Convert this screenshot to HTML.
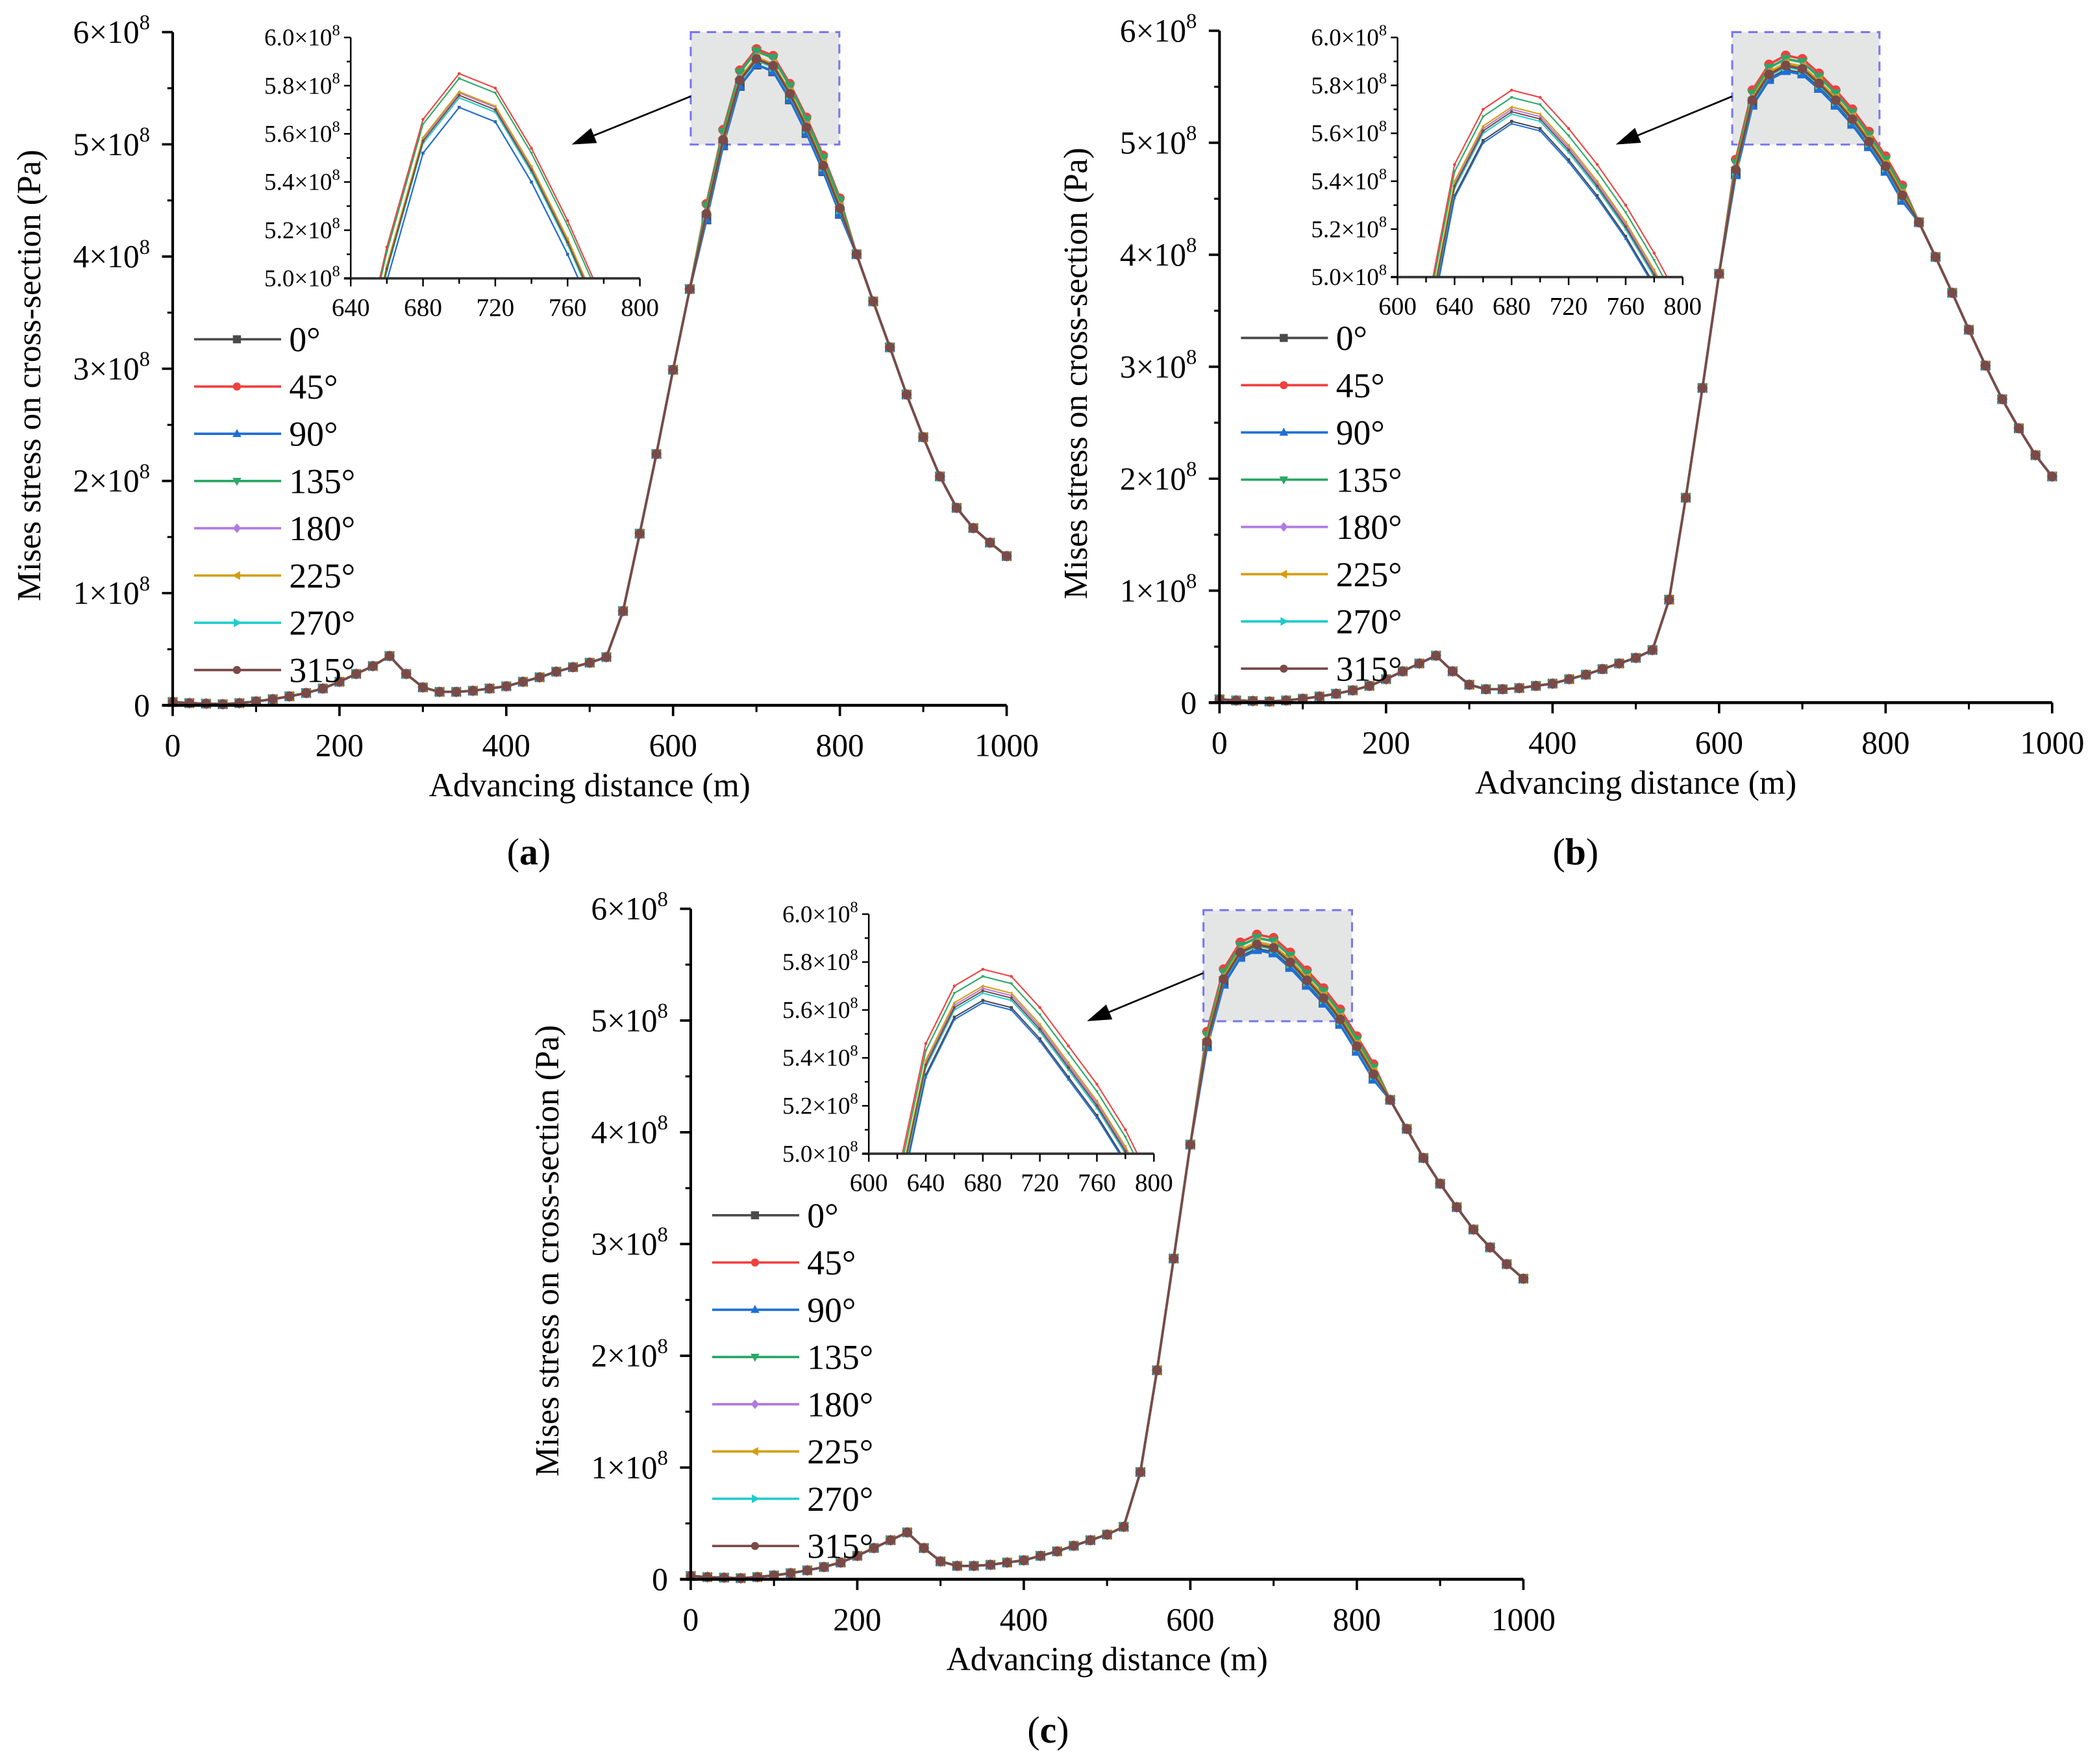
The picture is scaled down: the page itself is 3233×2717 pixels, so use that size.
<!DOCTYPE html>
<html><head><meta charset="utf-8"><title>Mises stress charts</title>
<style>
html,body{margin:0;padding:0;background:#fff;overflow:hidden;width:3233px;height:2717px;}
svg{display:block;}
text,tspan{font-family:"Liberation Serif","Noto Serif CJK SC",serif;}
</style></head>
<body>
<svg id="fig" width="3233" height="2717" viewBox="0 0 1568 1318" preserveAspectRatio="none" xmlns="http://www.w3.org/2000/svg">
<rect x="0" y="0" width="1568" height="1318" fill="#fff"/>
</svg>
<script>
// ---------- DATA ----------
const distances = [0,20,40,60,80,100,120,140,160,180,200,220,240,260,280,300,320,340,360,380,400,420,440,460,480,500,520,540,560,580,600,620,640,660,680,700,720,740,760,780,800,820,840,860,880,900,920,940,960,980,1000];
const seriesNames = ["0°","45°","90°","135°","180°","225°","270°","315°"];
const baseA = [0.03,0.02,0.015,0.01,0.02,0.035,0.055,0.08,0.11,0.15,0.21,0.28,0.35,0.44,0.28,0.16,0.12,0.12,0.13,0.15,0.17,0.21,0.25,0.30,0.34,0.38,0.43,0.84,1.53,2.24,2.99,3.71,4.39,5.05,5.58,5.77,5.71,5.46,5.16,4.82,4.44,4.02,3.60,3.19,2.77,2.39,2.04,1.76,1.58,1.45,1.33];
const baseB = [0.03,0.02,0.015,0.01,0.02,0.035,0.055,0.08,0.11,0.15,0.21,0.28,0.35,0.42,0.28,0.16,0.12,0.12,0.13,0.15,0.17,0.21,0.25,0.30,0.35,0.40,0.47,0.92,1.83,2.81,3.83,4.77,5.39,5.62,5.70,5.67,5.54,5.39,5.22,5.02,4.80,4.54,4.29,3.98,3.66,3.33,3.01,2.71,2.45,2.21,2.02];
const baseC = [0.03,0.02,0.015,0.01,0.02,0.035,0.055,0.08,0.11,0.15,0.21,0.28,0.35,0.42,0.28,0.16,0.12,0.12,0.13,0.15,0.17,0.21,0.25,0.30,0.35,0.40,0.47,0.96,1.87,2.87,3.89,4.82,5.38,5.62,5.69,5.66,5.53,5.37,5.21,5.02,4.78,4.53,4.29,4.03,3.77,3.54,3.33,3.13,2.97,2.82,2.69];
// per-angle offsets near the peak (x1e8 Pa), order as seriesNames
const offsetsA = [-0.06,0.08,-0.06,0.06,0,0.005,-0.02,-0.01];
const offsetsB = [-0.05,0.08,-0.06,0.05,0,0.01,-0.02,-0.01];
const offsetsC = [-0.05,0.08,-0.06,0.05,0,0.01,-0.02,-0.01];
const mainXTicks = [0,200,400,600,800,1000];
const mainYTicks = [0,1,2,3,4,5,6];
const insetXTicksA = [640,680,720,760,800];
const insetXTicksBC = [600,640,680,720,760,800];
const insetYTicks = [5.0,5.2,5.4,5.6,5.8,6.0];

// ---------- STYLE ----------
const FONT = '"Liberation Serif", "Noto Serif CJK SC", serif';
const colors = ["#4a4a4a","#f04040","#1f6fd6","#2aa866","#b07ae0","#d49e10","#20cccc","#7a4a48"];
const markers = ["square","circle","up","down","diamond","left","right","circle"];
const NS = "http://www.w3.org/2000/svg";
const svg = document.getElementById("fig");
function el(tag, attrs, parent){const e=document.createElementNS(NS,tag);for(const k in attrs)e.setAttribute(k,attrs[k]);if(tag==="text"||tag==="tspan")e.setAttribute("font-family",FONT);(parent||svg).appendChild(e);return e;}

function seriesValues(base, offs, si, w0, w1){
  return base.map((v,i)=> (i>=w0 && i<=w1) ? v+offs[si] : v);
}
function marker(g, type, x, y, r, color){
  let m;
  if(type==="square") m=el("rect",{x:x-r,y:y-r,width:2*r,height:2*r,fill:color},g);
  else if(type==="circle") m=el("circle",{cx:x,cy:y,r:r,fill:color},g);
  else if(type==="diamond") m=el("polygon",{points:`${x},${y-r*1.2} ${x+r},${y} ${x},${y+r*1.2} ${x-r},${y}`,fill:color},g);
  else { let p;
    if(type==="up") p=`${x},${y-r*1.2} ${x+r*1.1},${y+r*0.8} ${x-r*1.1},${y+r*0.8}`;
    else if(type==="down") p=`${x},${y+r*1.2} ${x+r*1.1},${y-r*0.8} ${x-r*1.1},${y-r*0.8}`;
    else if(type==="left") p=`${x-r*1.2},${y} ${x+r*0.8},${y-r*1.1} ${x+r*0.8},${y+r*1.1}`;
    else p=`${x+r*1.2},${y} ${x-r*0.8},${y-r*1.1} ${x-r*0.8},${y+r*1.1}`;
    m=el("polygon",{points:p,fill:color},g);}
  
  
  return m;
}
function sciLabel(parent, x, y, mant, size, anchor){
  const t=el("text",{x:x,y:y,"font-size":size,"text-anchor":anchor||"end",fill:"#000"},parent);
  
  
  if(mant==="0"){t.textContent="0";return t;}
  const a=el("tspan",{},t); a.textContent=mant+"×10";
  const b=el("tspan",{dy:-size*0.42,"font-size":size*0.66},t); b.textContent="8";
  return t;
}

function drawPanel(P){
  const g=el("g",{});
  
  
  const X=v=>P.x0+(v/1000)*(P.x1-P.x0);
  const Y=v=>P.y0-(v/6)*(P.y0-P.yTop);
  const zb=el("rect",{x:P.box[0],y:P.box[1],width:P.box[2]-P.box[0],height:P.box[3]-P.box[1],fill:"#e4e6e6",stroke:"#7878f0","stroke-width":1.5,"stroke-dasharray":"7,5"},g);
  
  
  for(let s=0;s<8;s++){
    const vals=seriesValues(P.base,P.offs,s,P.w0,P.w1);
    const sg=el("g",{},g);
    
    
    const pts=distances.map((d,i)=>X(d).toFixed(2)+","+Y(vals[i]).toFixed(2)).join(" ");
    const pl=el("polyline",{points:pts,fill:"none",stroke:colors[s],"stroke-width":1.8,"stroke-linejoin":"round"},sg);
    
    
    distances.forEach((d,i)=>marker(sg,markers[s],X(d),Y(vals[i]),3.6,colors[s]));
  }
  const ax=el("g",{stroke:"#000"},g);
  
  
  el("line",{x1:P.x0,y1:P.y0+1,x2:P.x0,y2:P.yTop,"stroke-width":2},ax);
  el("line",{x1:P.x0-8,y1:P.y0,x2:P.x1,y2:P.y0,"stroke-width":2.2},ax);
  for(let v=0.5;v<6;v+=1) el("line",{x1:P.x0-4,y1:Y(v),x2:P.x0,y2:Y(v),"stroke-width":1.5},ax);
  for(let v=100;v<1000;v+=200) el("line",{x1:X(v),y1:P.y0,x2:X(v),y2:P.y0+5,"stroke-width":1.5},ax);
  mainYTicks.forEach(v=>{el("line",{x1:P.x0-8,y1:Y(v),x2:P.x0,y2:Y(v),"stroke-width":1.8},ax);
    sciLabel(g,P.x0-17,Y(v)+8,String(v),24);});
  mainXTicks.forEach(v=>{el("line",{x1:X(v),y1:P.y0,x2:X(v),y2:P.y0+8,"stroke-width":1.8},ax);
    const t=el("text",{x:X(v),y:P.y0+38,"font-size":24,"text-anchor":"middle"},g);t.textContent=v;
    
    });
  const yt=el("text",{x:0,y:0,"font-size":25,"text-anchor":"middle",transform:`translate(${P.x0-99},${(P.y0+P.yTop)/2+5}) rotate(-90)`},g);
  yt.textContent="Mises stress on cross-section  (Pa)";
  
  
  const xt=el("text",{x:(P.x0+P.x1)/2,y:P.y0+68,"font-size":25,"text-anchor":"middle"},g);
  xt.textContent="Advancing distance (m)";
  
  
  const pl=el("text",{x:P.lab[0],y:P.lab[1],"font-size":28,"text-anchor":"middle"},g);
  
  
  pl.appendChild(document.createTextNode("("));
  const bb=el("tspan",{"font-weight":"bold"},pl); bb.textContent=P.id; pl.appendChild(document.createTextNode(")"));
  const ar=el("g",{},g);
  
  
  const [ax1,ay1,ax2,ay2]=P.arrow;
  const ang=Math.atan2(ay2-ay1,ax2-ax1);
  el("line",{x1:ax1,y1:ay1,x2:ax2-10*Math.cos(ang),y2:ay2-10*Math.sin(ang),stroke:"#000","stroke-width":1.3},ar);
  const hx=ax2,hy=ay2,L=18,W=6;
  const bx=hx-L*Math.cos(ang),by=hy-L*Math.sin(ang);
  el("polygon",{points:`${hx},${hy} ${bx+W*Math.sin(ang)},${by-W*Math.cos(ang)} ${bx-W*Math.sin(ang)},${by+W*Math.cos(ang)}`,fill:"#000"},ar);
  const I=P.inset;
  const IX=v=>I.x0+(v-I.xmin)/(I.xmax-I.xmin)*(I.x1-I.x0);
  const IY=v=>I.y0-(v-5)/(1)*(I.y0-I.yTop);
  const ig=el("g",{},g);
  
  
  const cid="clip"+P.id;
  const cp=el("clipPath",{id:cid},ig); el("rect",{x:I.x0,y:I.yTop-2,width:I.x1-I.x0,height:I.y0-I.yTop+2},cp);
  const isg=el("g",{"clip-path":`url(#${cid})`},ig);
  for(let s=0;s<8;s++){
    const vals=seriesValues(P.base,P.offs,s,P.w0,P.w1);
    const pts=distances.map((d,i)=>IX(d).toFixed(2)+","+IY(vals[i]).toFixed(2)).join(" ");
    const l=el("polyline",{points:pts,fill:"none",stroke:colors[s],"stroke-width":1},isg);
    
    
    distances.forEach((d,i)=>{ if(d>=I.xmin&&d<=I.xmax) marker(isg,markers[s],IX(d),IY(vals[i]),1.1,colors[s]);});
  }
  const ia=el("g",{stroke:"#000","stroke-width":1.2},ig);
  el("line",{x1:I.x0,y1:I.y0,x2:I.x0,y2:I.yTop},ia);
  el("line",{x1:I.x0-5,y1:I.y0,x2:I.x1,y2:I.y0,"stroke-width":1.8,stroke:"#333"},ia);
  for(let v=5.1;v<6;v+=0.2) el("line",{x1:I.x0-3,y1:IY(v),x2:I.x0,y2:IY(v)},ia);
  insetYTicks.forEach(v=>{el("line",{x1:I.x0-5,y1:IY(v),x2:I.x0,y2:IY(v)},ia);
    sciLabel(ig,I.x0-8,IY(v)+6,v.toFixed(1),18);});
  for(let v=I.xmin+20;v<I.xmax;v+=40) el("line",{x1:IX(v),y1:I.y0,x2:IX(v),y2:I.y0+4},ia);
  I.ticks.forEach(v=>{el("line",{x1:IX(v),y1:I.y0,x2:IX(v),y2:I.y0+6},ia);
    const t=el("text",{x:IX(v),y:I.y0+28,"font-size":19,"text-anchor":"middle"},ig);t.textContent=v;
    
    });
  const lg=el("g",{},g);
  
  
  seriesNames.forEach((n,s)=>{
    const y=P.leg[1]+s*35.3;
    const e=el("g",{},lg);
    
    
    el("line",{x1:P.leg[0],y1:y,x2:P.leg[0]+65,y2:y,stroke:colors[s],"stroke-width":1.8},e);
    marker(e,markers[s],P.leg[0]+32,y,3,colors[s]);
    const t=el("text",{x:P.leg[0]+71,y:y+9,"font-size":26},e);t.textContent=n;
  });
}

drawPanel({id:"a",x0:129,x1:752,y0:527,yTop:24,base:baseA,offs:offsetsA,w0:32,w1:40,
  box:[516,24,627,108],arrow:[516,72,427,108],lab:[395,646],leg:[145,253.5],
  inset:{x0:262,x1:478,y0:208,yTop:28,xmin:640,xmax:800,ticks:insetXTicksA}});
drawPanel({id:"b",x0:911,x1:1533,y0:525,yTop:23,base:baseB,offs:offsetsB,w0:31,w1:41,
  box:[1294,24,1404,108],arrow:[1294,72,1207,108],lab:[1177,646],leg:[927,252.5],
  inset:{x0:1044,x1:1257,y0:207,yTop:28,xmin:600,xmax:800,ticks:insetXTicksBC}});
drawPanel({id:"c",x0:516,x1:1138,y0:1180,yTop:679,base:baseC,offs:offsetsC,w0:31,w1:41,
  box:[899,680,1010,763],arrow:[899,727,812,763],lab:[783,1302],leg:[532,908],
  inset:{x0:649,x1:862,y0:862,yTop:683,xmin:600,xmax:800,ticks:insetXTicksBC}});
</script>
</body></html>
